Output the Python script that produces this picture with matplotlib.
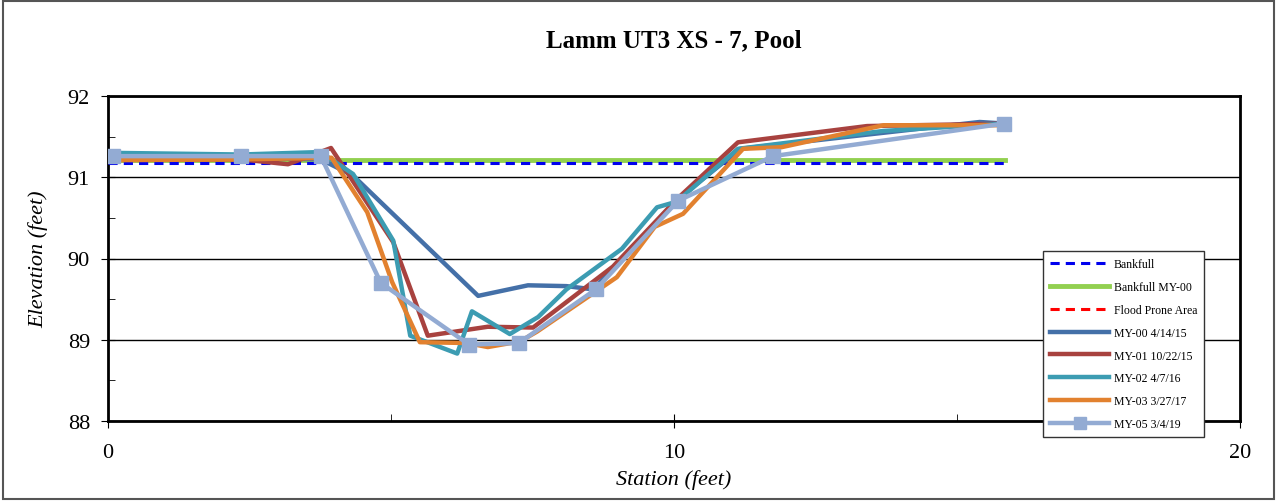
import numpy as np
import matplotlib
matplotlib.use("Agg")
import matplotlib.pyplot as plt
from matplotlib.patches import Rectangle

plt.rcParams['font.family'] = ['Liberation Serif', 'DejaVu Serif']

# datos
bankfull_x = [0.0, 15.85]
bankfull_y = [91.17, 91.17]
bankfull_my00_y = [91.21, 91.21]
flood_x = []
flood_y = []

my00_x = [0.09, 2.35, 3.76, 4.33, 6.54, 7.42, 8.10, 8.57, 10.05, 11.17, 15.40, 15.85]
my00_y = [91.27, 91.24, 91.22, 91.02, 89.54, 89.67, 89.66, 89.62, 90.72, 91.35, 91.68, 91.66]

my01_x = [0.09, 2.35, 3.18, 3.94, 5.04, 5.65, 6.71, 7.51, 8.92, 10.05, 11.13, 13.41, 15.85]
my01_y = [91.22, 91.22, 91.16, 91.36, 90.20, 89.05, 89.16, 89.15, 89.90, 90.73, 91.43, 91.63, 91.66]

my02_x = [0.09, 2.35, 3.75, 4.33, 5.04, 5.34, 6.17, 6.43, 7.10, 7.60, 8.10, 9.08, 9.70, 10.05, 11.13, 13.70, 15.85]
my02_y = [91.30, 91.28, 91.31, 91.04, 90.22, 89.05, 88.83, 89.35, 89.07, 89.28, 89.62, 90.12, 90.63, 90.70, 91.35, 91.57, 91.66]

my03_x = [0.09, 2.35, 3.95, 4.58, 5.02, 5.51, 6.34, 6.71, 7.28, 7.58, 8.99, 9.66, 10.16, 11.22, 11.90, 13.70, 15.85]
my03_y = [91.21, 91.22, 91.24, 90.57, 89.71, 88.97, 88.96, 88.91, 88.98, 89.10, 89.77, 90.39, 90.55, 91.35, 91.37, 91.64, 91.64]

my05_x = [0.09, 2.35, 3.76, 4.82, 6.38, 7.26, 8.62, 10.07, 11.75, 15.83]
my05_y = [91.26, 91.26, 91.26, 89.70, 88.94, 88.96, 89.62, 90.71, 91.26, 91.66]

fig = plt.figure(figsize=(12.77, 5.02), dpi=100)
ax = fig.add_axes([108/1277, 1 - 422/502, (1240-108)/1277, (422-97)/502])

ax.plot(bankfull_x, bankfull_y, color='#0000ee', lw=2.2, ls=(0, (3, 2)), label='Bankfull', zorder=3)
ax.plot(bankfull_x, bankfull_my00_y, color='#92d050', lw=3.5, label='Bankfull MY-00', zorder=2)
ax.plot(flood_x, flood_y, color='#ff0000', lw=2.2, ls=(0, (3, 2)), label='Flood Prone Area')
ax.plot(my00_x, my00_y, color='#4470a8', lw=3.2, label='MY-00 4/14/15', zorder=4)
ax.plot(my01_x, my01_y, color='#a8423f', lw=3.2, label='MY-01 10/22/15', zorder=5)
ax.plot(my02_x, my02_y, color='#3c9cb2', lw=3.2, label='MY-02 4/7/16', zorder=6)
ax.plot(my03_x, my03_y, color='#e2812f', lw=3.2, label='MY-03 3/27/17', zorder=7)
ax.plot(my05_x, my05_y, color='#93abd3', lw=3.2, marker='s', ms=10, label='MY-05 3/4/19', zorder=8)

ax.set_xlim(0, 20)
ax.set_ylim(88, 92)
ax.set_xticks([0, 10, 20])
ax.set_xticks([5, 15], minor=True)
ax.set_yticks([88, 89, 90, 91, 92])
ax.set_yticks(np.arange(88.5, 92, 1.0), minor=True)
ax.yaxis.grid(True, color='black', lw=1)
ax.tick_params(axis='both', which='major', direction='inout', length=10, labelsize=16)
ax.tick_params(axis='both', which='minor', direction='in', length=5)
ax.tick_params(axis='x', pad=11)
ax.tick_params(axis='y', pad=8)
for s in ax.spines.values():
    s.set_linewidth(2)

ax.set_title('Lamm UT3 XS - 7, Pool', fontsize=18, fontweight='bold', pad=36)
ax.set_xlabel('Station (feet)', fontsize=16, style='italic', labelpad=5)
ax.set_ylabel('Elevation (feet)', fontsize=16, style='italic', labelpad=14)

leg = ax.legend(loc='upper left', bbox_to_anchor=(1043/1277, 1 - 252/502),
                bbox_transform=fig.transFigure, fontsize=8.5,
                frameon=True, fancybox=False, edgecolor='#333333', framealpha=1,
                handlelength=5.0, labelspacing=0.92, borderpad=0.6, handletextpad=0.4,
                borderaxespad=0, markerscale=0.8)
leg.get_frame().set_linewidth(1)
leg.set_zorder(10)

fig.patches.append(Rectangle((0.002, 0.004), 0.996, 0.992, transform=fig.transFigure,
                             fill=False, edgecolor='#555555', lw=1.5))

fig.savefig('out.png', dpi=100)
